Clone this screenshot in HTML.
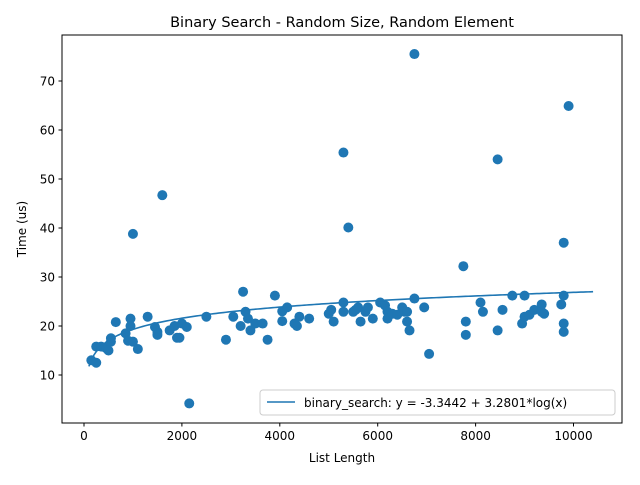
<!DOCTYPE html>
<html><head><meta charset="utf-8"><style>body{margin:0;background:#fff}svg{font-family:"DejaVu Sans","Liberation Sans",sans-serif}</style></head>
<body>
<svg id="chart" width="640" height="480" xmlns="http://www.w3.org/2000/svg">
<rect width="640" height="480" fill="#fff"/>
<text x="342" y="27" font-size="14.5" text-anchor="middle">Binary Search - Random Size, Random Element</text>
<g id="ticks"></g>
<g id="marks"></g>
<rect x="62" y="35" width="560" height="388" fill="none" stroke="#000" stroke-width="1"/>
<text x="342" y="462" font-size="12" text-anchor="middle">List Length</text>
<text transform="translate(26,229) rotate(-90)" font-size="12" text-anchor="middle">Time (us)</text>
<g>
<rect x="260" y="390" width="355" height="25" rx="3" fill="#fff" fill-opacity="0.8" stroke="#ccc"/>
<line x1="267" y1="402" x2="295" y2="402" stroke="#1f77b4" stroke-width="1.6"/>
<text x="304" y="407" font-size="12">binary_search: y = -3.3442 + 3.2801*log(x)</text>
</g>
</svg>
<script>
const xs=[150,250,250,350,450,500,550,550,650,850,900,950,950,1000,1000,1100,1300,1450,1500,1500,1600,1750,1850,1900,1950,2000,2100,2150,2500,2900,3050,3200,3250,3300,3350,3400,3500,3650,3750,3900,4050,4050,4150,4300,4350,4400,4600,5000,5050,5100,5300,5300,5300,5400,5500,5550,5600,5650,5750,5800,5900,6050,6150,6200,6200,6300,6400,6500,6550,6600,6600,6650,6750,6750,6950,7050,7750,7800,7800,8100,8150,8450,8450,8550,8750,8950,9000,9000,9100,9200,9350,9350,9400,9750,9800,9800,9800,9800,9900];
const ys=[13,12.5,15.8,15.8,15.5,15,17.5,16.8,20.8,18.5,17,21.5,20,38.8,16.8,15.3,21.9,19.8,18.8,18.2,46.7,19.1,20,17.6,17.6,20.5,19.8,4.2,21.9,17.2,21.9,20,27,22.9,21.5,19.1,20.5,20.5,17.2,26.2,21,23,23.8,20.5,20,21.9,21.5,22.5,23.3,20.9,55.4,24.8,22.9,40.1,22.9,23.3,23.8,20.9,22.9,23.8,21.5,24.8,24.2,22.9,21.5,22.5,22.3,23.8,22.9,22.9,20.9,19.1,75.5,25.6,23.8,14.3,32.2,18.2,20.9,24.8,22.9,54,19.1,23.3,26.2,20.5,26.2,21.9,22.3,23.3,24.4,22.9,22.5,24.4,37,26.2,20.5,18.8,64.9];
const fitA=-3.3442, fitB=3.2801;
const xTicks=[0,2000,4000,6000,8000,10000];
const yTicks=[10,20,30,40,50,60,70];
const sx=v=>84+v*0.04895, sy=v=>424-v*4.9;
const NS='http://www.w3.org/2000/svg';
const T=document.getElementById('ticks'), M=document.getElementById('marks');
function mk(tag,a,p){const e=document.createElementNS(NS,tag);for(const k in a)e.setAttribute(k,a[k]);p.appendChild(e);return e;}
xTicks.forEach(t=>{const x=sx(t);
 const l=mk('line',{x1:x,y1:423,x2:x,y2:426.5,stroke:'#000'},T);
 
 
 const s=mk('text',{x:x,y:440,'font-size':12,'text-anchor':'middle'},T);s.textContent=t;
 
 });
yTicks.forEach(t=>{const y=sy(t);
 const l=mk('line',{x1:58.5,y1:y,x2:62,y2:y,stroke:'#000'},T);
 
 
 const s=mk('text',{x:55,y:y+4.5,'font-size':12,'text-anchor':'end'},T);s.textContent=t;
 
 });
xs.forEach((x,i)=>{const c=mk('circle',{cx:sx(x),cy:sy(ys[i]),r:5,fill:'#1f77b4'},M);
 
 });
let d='';for(let x=100;x<=10400;x+=50){d+=(d?'L':'M')+sx(x).toFixed(2)+','+sy(fitA+fitB*Math.log(x)).toFixed(2);}
const p=mk('path',{d:d,fill:'none',stroke:'#1f77b4','stroke-width':1.6},M);


</script>
</body></html>
